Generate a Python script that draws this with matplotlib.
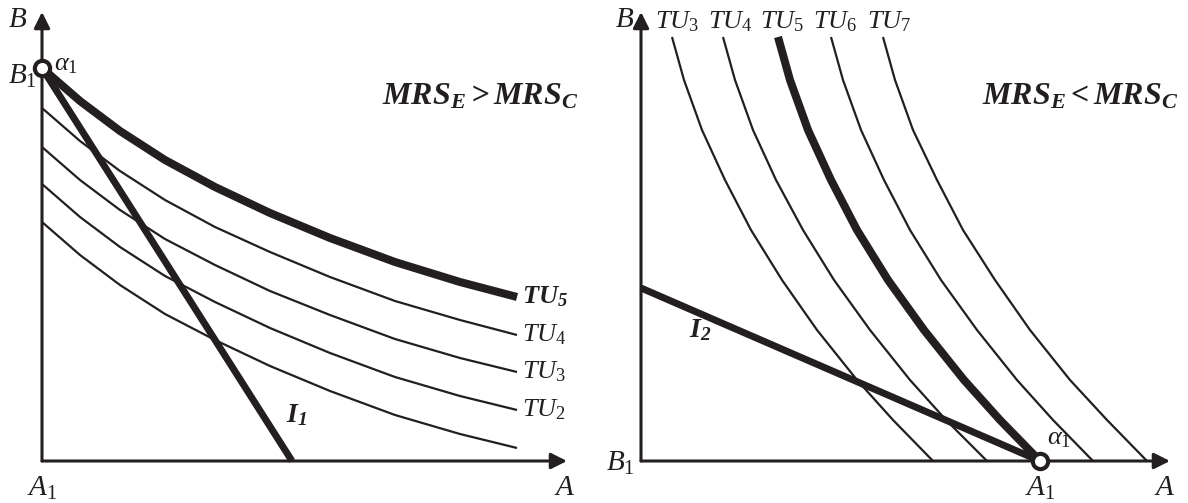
"""Two indifference-curve panels: MRS_E > MRS_C (left) and MRS_E < MRS_C (right)."""

import matplotlib
matplotlib.use("Agg")
import matplotlib.pyplot as plt

plt.rcParams["font.family"] = ["Liberation Serif", "DejaVu Serif"]
plt.rcParams["mathtext.fontset"] = "custom"
plt.rcParams["mathtext.rm"] = "Liberation Serif"
plt.rcParams["mathtext.it"] = "Liberation Serif:italic"
plt.rcParams["mathtext.bf"] = "Liberation Serif:italic:bold"
plt.rcParams["mathtext.fallback"] = "stix"

INK = "#231f20"

# ---- left panel: good A on x, good B on y (units)
left_a = [0, 38, 78, 123, 173, 228, 288, 353, 418, 475]
left_tu5 = [393, 360, 330, 301, 274, 248, 223, 199, 179, 164]
left_tu4 = [353, 320, 290, 261, 234, 209, 184, 160, 141, 126]
left_tu3 = [314, 281, 251, 222, 196, 170, 146, 122, 103, 89]
left_tu2 = [277, 244, 214, 185, 159, 133, 108, 84, 65, 51]
left_tu1 = [239, 206, 176, 147, 121, 95, 70, 46, 27, 13]
left_i1_a = [0, 250]
left_i1_b = [393, 0]
left_point = (0, 393)

# ---- right panel
right_b = [424, 381, 331, 281, 231, 181, 131, 81, 41, 0]
right_tu3 = [31, 43, 61, 84, 110, 141, 176, 216, 252, 292]
right_tu4 = [82, 94, 112, 135, 162, 193, 229, 269, 305, 346]
right_tu5 = [137, 149, 167, 190, 216, 247, 283, 323, 359, 399]
right_tu6 = [190, 202, 220, 243, 269, 300, 336, 376, 412, 452]
right_tu7 = [242, 254, 272, 296, 322, 354, 389, 429, 466, 506]
right_i2_a = [0, 399]
right_i2_b = [173, 0]
right_point = (399, 0)

W, H = 1188, 503
fig = plt.figure(figsize=(W / 100, H / 100), dpi=100)
fig.patch.set_facecolor("white")


def make_axes(x0_px, y0_px, xmax, ymax):
    ax = fig.add_axes([x0_px / W, (H - y0_px) / H, xmax / W, ymax / H])
    ax.set_xlim(0, xmax)
    ax.set_ylim(0, ymax)
    ax.axis("off")
    # axes with arrow heads
    arrow = dict(arrowstyle="-|>", color=INK, lw=2.2, mutation_scale=24,
                 shrinkA=0, shrinkB=0)
    ax.annotate("", xy=(xmax, 0), xytext=(0, 0), arrowprops=arrow,
                annotation_clip=False)
    ax.annotate("", xy=(0, ymax), xytext=(0, 0), arrowprops=arrow,
                annotation_clip=False)
    return ax


def thin(ax, x, y):
    ax.plot(x, y, color=INK, lw=1.6, clip_on=False, solid_capstyle="butt",
            solid_joinstyle="round")


def thick(ax, x, y, lw=5.6):
    ax.plot(x, y, color=INK, lw=lw, clip_on=False, solid_capstyle="butt",
            solid_joinstyle="round")


def point(ax, xy):
    ax.plot(*xy, "o", ms=11, mfc="white", mec=INK, mew=3, clip_on=False, zorder=5)


# ---------------- left
ax1 = make_axes(42, 461, 525, 449)
for curve in (left_tu4, left_tu3, left_tu2, left_tu1):
    thin(ax1, left_a, curve)
thick(ax1, left_a, left_tu5, lw=5.8)
thick(ax1, left_i1_a, left_i1_b, lw=5.0)
point(ax1, left_point)

txt = dict(color=INK, clip_on=False)
ax1.text(-24, 441, "$B$", fontsize=21, ha="center", va="center", **txt)
ax1.text(-20, 385, "$B_1$", fontsize=21, ha="center", va="center", **txt)
ax1.text(12, 396, r"$\alpha_1$", fontsize=19, ha="left", va="center", **txt)
ax1.text(438, 364, r"$\mathbf{MRS_E > MRS_C}$", fontsize=23, ha="center",
         va="center", **txt)
ax1.text(480, 164, r"$\mathbf{TU_5}$", fontsize=19, ha="left", va="center", **txt)
for lab, yy in (("4", 126), ("3", 89), ("2", 51)):
    ax1.text(480, yy, "$TU_%s$" % lab, fontsize=19, ha="left", va="center", **txt)
ax1.text(244, 46, r"$\mathbf{I_1}$", fontsize=20, ha="left", va="center", **txt)
ax1.text(0, -27, "$A_1$", fontsize=21, ha="center", va="center", **txt)
ax1.text(523, -27, "$A$", fontsize=21, ha="center", va="center", **txt)

# ---------------- right
ax2 = make_axes(641, 461, 529, 449)
for curve in (right_tu3, right_tu4, right_tu6, right_tu7):
    thin(ax2, curve, right_b)
thick(ax2, right_tu5, right_b, lw=5.8)
thick(ax2, right_i2_a, right_i2_b, lw=5.0)
point(ax2, right_point)

ax2.text(-16, 441, "$B$", fontsize=21, ha="center", va="center", **txt)
for lab, xx in (("3", 14), ("4", 67), ("5", 119), ("6", 172), ("7", 226)):
    ax2.text(xx, 439, "$TU_%s$" % lab, fontsize=19, ha="left", va="center", **txt)
ax2.text(-21, -2, "$B_1$", fontsize=21, ha="center", va="center", **txt)
ax2.text(418, 22, r"$\alpha_1$", fontsize=19, ha="center", va="center", **txt)
ax2.text(399, -27, "$A_1$", fontsize=21, ha="center", va="center", **txt)
ax2.text(524, -27, "$A$", fontsize=21, ha="center", va="center", **txt)
ax2.text(439, 364, r"$\mathbf{MRS_E < MRS_C}$", fontsize=23, ha="center",
         va="center", **txt)
ax2.text(48, 131, r"$\mathbf{I_2}$", fontsize=20, ha="left", va="center", **txt)

fig.savefig("out.png", dpi=100, facecolor="white")
